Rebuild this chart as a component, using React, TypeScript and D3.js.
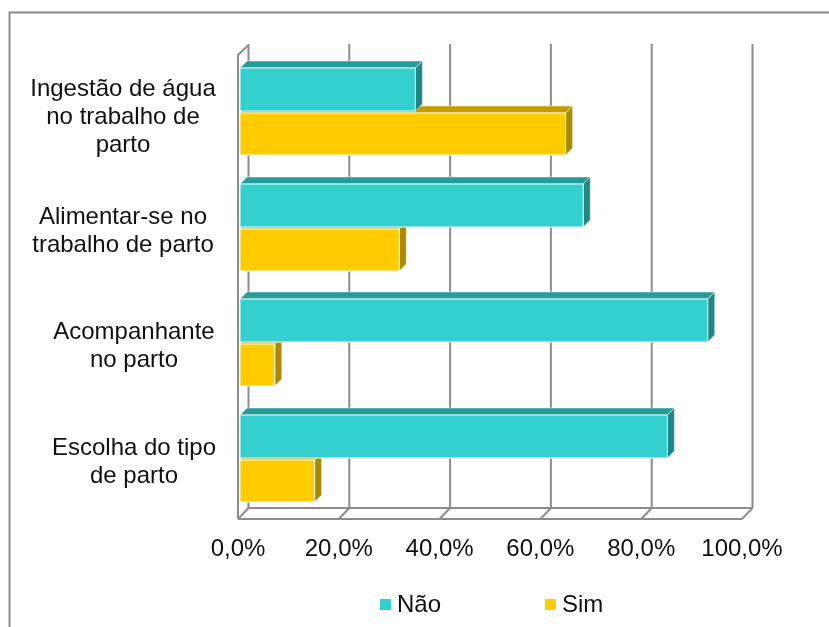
import React from "react";
import * as d3 from "d3";

const categories: string[][] = [
  ["Ingestão de água", "no trabalho de", "parto"],
  ["Alimentar-se no", "trabalho de parto"],
  ["Acompanhante", "no parto"],
  ["Escolha do tipo", "de parto"],
];
const naoValues = [35.2, 68.5, 93.2, 85.2];
const simValues = [65.0, 32.0, 7.3, 15.2];
const tickValues = [0, 20, 40, 60, 80, 100];
const barTops = [68, 184, 299, 415];

const FONT = "'Liberation Sans', Arial, sans-serif";
const x = d3.scaleLinear().domain([0, 100]).range([238, 742]);
const D = 10.5;
const d = 7;
const cats = d3.scaleOrdinal<number, number>().domain([0, 1, 2, 3]).range(barTops);

function Bar({ y, h, v, front, top, side }: { y: number; h: number; v: number; front: string; top: string; side: string }) {
  const x0 = 240;
  const x1 = x(v);
  const path = d3.path();
  path.moveTo(x0, y);
  path.lineTo(x0 + d, y - d);
  path.lineTo(x1 + d, y - d);
  path.lineTo(x1, y);
  path.closePath();
  const sp = d3.path();
  sp.moveTo(x1, y);
  sp.lineTo(x1 + d, y - d);
  sp.lineTo(x1 + d, y + h - d);
  sp.lineTo(x1, y + h);
  sp.closePath();
  return (
    <g>
      <path d={path.toString()} fill={top} stroke="#fff" strokeOpacity={0.6} strokeWidth={0.8} />
      <path d={sp.toString()} fill={side} stroke="#fff" strokeOpacity={0.6} strokeWidth={0.8} />
      <rect x={x0} y={y} width={x1 - x0} height={h} fill={front} stroke="#f2fdfc" strokeWidth={1} />
    </g>
  );
}

export default function App() {
  const gray = "#8c8c8c";
  return (
    <svg
      width={829}
      height={627}
      style={{ position: "absolute", left: 0, top: 0, background: "#fff", filter: "blur(0.35px)" }}
      fontFamily={FONT}
    >
      <path d="M9.5 627V12.5H829" fill="none" stroke={gray} strokeWidth={2} />
      <g stroke={gray} strokeWidth={2} fill="none">
        {tickValues.map((t) => (
          <g key={t}>
            <line x1={x(t) + D} x2={x(t) + D} y1={44} y2={508} />
            <line x1={x(t)} x2={x(t) + D} y1={519} y2={508} />
          </g>
        ))}
        <path d={`M${x(0)} 519V55L${x(0) + D} 45`} />
        <path d={`M${x(0)} 519H${x(100)}`} />
        <path d={`M${x(0) + D} 508H${x(100) + D}`} />
      </g>
      {categories.map((_, i) => (
        <g key={i}>
          <Bar y={cats(i) + 45} h={42} v={simValues[i]} front="#ffcc00" top="#c49c00" side="#ab8900" />
          <Bar y={cats(i)} h={43} v={naoValues[i]} front="#33d0cf" top="#249c9a" side="#1f8886" />
        </g>
      ))}
      {categories.map((lines, i) => {
        const cy = barTops[i] + 44;
        const lh = 28;
        const start = cy - ((lines.length - 1) * lh) / 2 + (lines.length === 3 ? 12 : 10);
        const cx = i < 2 ? 123 : 134;
        return lines.map((l, j) => (
          <text key={j} x={cx} y={start + j * lh} textAnchor="middle" fontSize={24} fill="#111">
            {l}
          </text>
        ));
      })}
      {tickValues.map((t) => (
        <text key={t} x={x(t)} y={556} textAnchor="middle" fontSize={24} fill="#111">
          {t.toFixed(1).replace(".", ",")}%
        </text>
      ))}
      <rect x={380} y={599} width={11} height={11} fill="#33d0cf" />
      <text x={397} y={612} fontSize={24} fill="#111">Não</text>
      <rect x={545} y={599} width={11} height={11} fill="#ffcc00" />
      <text x={562} y={612} fontSize={24} fill="#111">Sim</text>
    </svg>
  );
}
